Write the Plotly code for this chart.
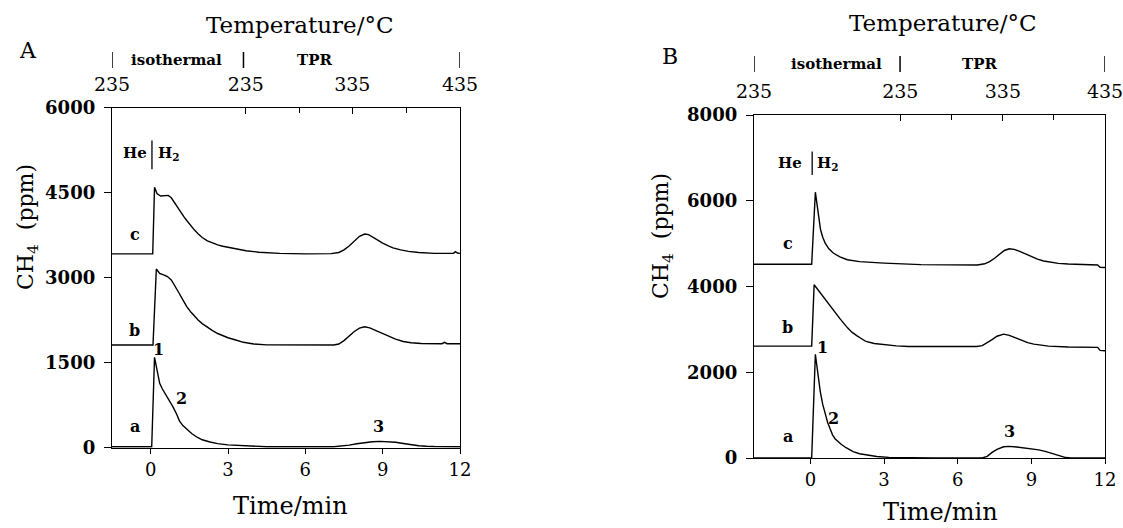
import plotly.graph_objects as go

# ---------------- data: panel A ----------------
tA_a = [-1.5, 0.04, 0.15, 0.22, 0.3, 0.35, 0.45, 0.6, 0.75, 0.86, 1.0, 1.12, 1.25, 1.4, 1.6, 1.8, 2.0, 2.3, 2.6, 3.0, 3.5, 4.0, 4.5,
        7.1, 7.4, 7.7, 8.0, 8.3, 8.6, 8.9, 9.2, 9.5, 9.8, 10.1, 10.4, 10.7, 11.0, 12]
yA_a = [18, 18, 1595, 1429, 1240, 1136, 1040, 930, 820, 724, 600, 470, 390, 320, 245, 185, 140, 100, 72, 50, 35, 25, 18,
        18, 28, 45, 70, 92, 105, 112, 108, 95, 75, 52, 35, 25, 20, 18]

tA_b = [-1.5, 0.09, 0.22, 0.35, 0.5, 0.65, 0.8, 0.9, 1.0, 1.1, 1.2, 1.3, 1.4, 1.55, 1.7, 1.85, 2.0, 2.2, 2.4, 2.6, 2.8, 3.0, 3.3, 3.6, 4.0, 4.5,
        7.1, 7.3, 7.5, 7.7, 7.9, 8.1, 8.3, 8.5, 8.7, 8.9, 9.1, 9.3, 9.5, 9.8, 10.1, 10.5, 11.3, 11.4, 11.5, 12]
yA_b = [1812, 1812, 3153, 3077, 3050, 3020, 2960, 2890, 2812, 2730, 2650, 2570, 2490, 2400, 2320, 2250, 2190, 2120, 2065, 2015, 1975, 1940, 1900, 1860, 1830, 1815,
        1812, 1830, 1890, 1970, 2050, 2110, 2135, 2115, 2075, 2035, 1995, 1955, 1915, 1875, 1852, 1840, 1835, 1860, 1835, 1835]

tA_c = [-1.5, 0.08, 0.15, 0.25, 0.39, 0.55, 0.68, 0.8, 0.9, 1.0, 1.1, 1.2, 1.3, 1.4, 1.55, 1.7, 1.85, 2.0, 2.2, 2.4, 2.6, 2.8, 3.0, 3.3, 3.7, 4.2, 5.0, 6.0,
        7.0, 7.3, 7.5, 7.7, 7.9, 8.1, 8.3, 8.45, 8.6, 8.8, 9.0, 9.2, 9.4, 9.7, 10.0, 10.4, 11.0, 11.75, 11.82, 11.9, 12]
yA_c = [3420, 3420, 4595, 4480, 4441, 4450, 4453, 4410, 4340, 4260, 4190, 4130, 4070, 4010, 3920, 3840, 3770, 3710, 3650, 3610, 3580, 3555, 3535, 3505, 3475, 3450, 3430, 3420,
        3425, 3445, 3490, 3560, 3650, 3730, 3771, 3760, 3720, 3660, 3610, 3565, 3525, 3490, 3465, 3445, 3430, 3430, 3460, 3435, 3430]

# ---------------- data: panel B ----------------
tB_a = [-2.3, 0.05, 0.2, 0.3, 0.4, 0.5, 0.6, 0.7, 0.8, 0.9, 1.0, 1.1, 1.25, 1.45, 1.74, 2.0, 2.3, 2.7, 3.2, 4.0, 5.0,
        7.0, 7.2, 7.4, 7.6, 7.87, 8.1, 8.4, 8.7, 9.0, 9.3, 9.6, 9.94, 10.2, 10.4, 10.6, 12]
yB_a = [0, 0, 2420, 1950, 1550, 1250, 1020, 830, 680, 540, 450, 390, 320, 240, 150, 100, 65, 35, 15, 5, 0,
        0, 40, 130, 200, 262, 270, 255, 235, 215, 190, 150, 100, 45, 10, 0, 0]

tB_b = [-2.3, 0.05, 0.15, 0.4, 0.7, 0.93, 1.2, 1.52, 1.7, 1.9, 2.26, 2.6, 3.0, 3.5, 4.0,
        6.77, 7.0, 7.2, 7.4, 7.6, 7.87, 8.1, 8.35, 8.6, 8.85, 9.1, 9.35, 9.7, 10.5, 11.7, 11.8, 12]
yB_b = [2610, 2610, 4040, 3850, 3620, 3450, 3250, 3030, 2930, 2850, 2718, 2670, 2641, 2615, 2600,
        2600, 2620, 2680, 2760, 2840, 2888, 2860, 2800, 2740, 2690, 2655, 2630, 2610, 2590, 2580, 2510, 2500]

tB_c = [-2.3, 0.05, 0.2, 0.25, 0.3, 0.35, 0.41, 0.5, 0.6, 0.75, 0.93, 1.2, 1.5, 2.0, 2.5, 3.0, 4.5,
        6.8, 7.1, 7.3, 7.5, 7.7, 7.9, 8.1, 8.3, 8.5, 8.75, 9.0, 9.25, 9.5, 9.8, 10.1, 10.5, 11.0, 11.7, 11.8, 12]
yB_c = [4520, 4520, 6200, 6000, 5750, 5520, 5330, 5150, 5010, 4880, 4780, 4690, 4625, 4580, 4560, 4545, 4510,
        4500, 4530, 4580, 4660, 4760, 4840, 4880, 4865, 4825, 4760, 4700, 4640, 4595, 4560, 4540, 4525, 4515, 4500, 4450, 4444]

# ---------------- ticks ----------------
time_ticks = [0, 3, 6, 9, 12]
yA_ticks = [0, 1500, 3000, 4500, 6000]
yB_ticks = [0, 2000, 4000, 6000, 8000]
tempA_ticks = [-1.5, 3.69, 7.82, 12]
tempA_minor = [5.76, 9.91]
tempB_ticks = [-2.3, 3.66, 7.84, 12]
tempB_minor = [5.75, 9.92]
temp_labels = ["235", "235", "335", "435"]

# ---------------- curve labels ----------------
labA_text = ["a", "b", "c", "1", "2", "3"]
labA_t = [-0.62, -0.62, -0.62, 0.3, 1.19, 8.85]
labA_y = [370, 2077, 3770, 1740, 860, 370]
labB_text = ["a", "b", "c", "1", "2", "3"]
labB_t = [-0.92, -0.92, -0.92, 0.5, 0.95, 8.09]
labB_y = [513, 3055, 5012, 2573, 933, 610]

W, H = 1123, 528
SERIF = "DejaVu Serif"
LW = 1.4

def px_x(p):
    return p / W

def px_y(p):
    return 1 - p / H

fig = go.Figure()
line = dict(color="black", width=LW)
for t, y in [(tA_a, yA_a), (tA_b, yA_b), (tA_c, yA_c)]:
    fig.add_trace(go.Scatter(x=t, y=y, mode="lines", line=line, xaxis="x", yaxis="y", showlegend=False, hoverinfo="skip"))
for t, y in [(tB_a, yB_a), (tB_b, yB_b), (tB_c, yB_c)]:
    fig.add_trace(go.Scatter(x=t, y=y, mode="lines", line=line, xaxis="x2", yaxis="y2", showlegend=False, hoverinfo="skip"))

axis_common = dict(showline=True, linecolor="black", linewidth=1.4, showgrid=False, zeroline=False,
                   tickcolor="black", tickwidth=1.2, fixedrange=True, automargin=False,
                   ticklabeloverflow="allow")

xfont = dict(family=SERIF, size=18, color="black")
yfont = dict(family=SERIF, size=18, color="black", weight="bold")
tfont = dict(family=SERIF, size=19, color="black")

domA_x = [px_x(112), px_x(460)]
domA_y = [px_y(447.7), px_y(107.7)]
domB_x = [px_x(754), px_x(1105)]
domB_y = [px_y(458), px_y(115)]

minor_style = dict(ticks="inside", ticklen=5, tickcolor="black", tickwidth=1.2, showgrid=False)

fig.update_layout(
    width=W, height=H, margin=dict(l=0, r=0, t=0, b=0, autoexpand=False),
    paper_bgcolor="white", plot_bgcolor="white",
    xaxis=dict(domain=domA_x, range=[-1.5, 12], anchor="y", tickmode="array", tickvals=time_ticks,
               ticks="outside", ticklen=5, tickfont=xfont, **axis_common),
    yaxis=dict(domain=domA_y, range=[0, 6000], anchor="x", tickmode="array", tickvals=yA_ticks,
               ticks="outside", ticklen=7, tickfont=yfont, mirror=True, ticklabelstandoff=5, **axis_common),
    xaxis3=dict(overlaying="x", side="top", anchor="y", range=[-1.5, 12], tickmode="array",
                tickvals=tempA_ticks, ticktext=temp_labels, ticks="inside", ticklen=6,
                minor=dict(tickmode="array", tickvals=tempA_minor, **minor_style),
                tickfont=tfont, ticklabelstandoff=8, **axis_common),
    xaxis2=dict(domain=domB_x, range=[-2.3, 12], anchor="y2", tickmode="array", tickvals=time_ticks,
                ticks="outside", ticklen=5, tickfont=xfont, **axis_common),
    yaxis2=dict(domain=domB_y, range=[0, 8000], anchor="x2", tickmode="array", tickvals=yB_ticks,
                ticks="outside", ticklen=7, tickfont=yfont, mirror=True, ticklabelstandoff=5, **axis_common),
    xaxis4=dict(overlaying="x2", side="top", anchor="y2", range=[-2.3, 12], tickmode="array",
                tickvals=tempB_ticks, ticktext=temp_labels, ticks="inside", ticklen=6,
                minor=dict(tickmode="array", tickvals=tempB_minor, **minor_style),
                tickfont=tfont, ticklabelstandoff=8, **axis_common),
)

ann = []
shapes = []

def paper_text(x, y, text, size, bold=False, angle=0):
    t = f"<b>{text}</b>" if bold else text
    ann.append(dict(x=px_x(x), y=px_y(y), xref="paper", yref="paper", text=t, showarrow=False,
                    font=dict(family=SERIF, size=size, color="black"), textangle=angle,
                    xanchor="center", yanchor="middle"))

def data_text(xref, yref, x, y, text, size, bold=True):
    t = f"<b>{text}</b>" if bold else text
    ann.append(dict(x=x, y=y, xref=xref, yref=yref, text=t, showarrow=False,
                    font=dict(family=SERIF, size=size, color="black"),
                    xanchor="center", yanchor="middle"))

# Panel titles and axis titles
paper_text(28, 50, "A", 22)
paper_text(670, 56, "B", 22)
paper_text(300, 25, "Temperature/°C", 23)
paper_text(943, 23, "Temperature/°C", 23)
paper_text(290, 506, "Time/min", 24)
paper_text(940, 512, "Time/min", 24)
paper_text(27, 227, "CH<sub>4</sub>  (ppm)", 22, angle=-90)
paper_text(662, 236, "CH<sub>4</sub>  (ppm)", 22, angle=-90)

# isothermal / TPR row (in time coordinates of the top axes)
for xr, yc, bars, iso_t, tpr_t in [("x3", 60, [-1.5, 3.6, 12], 1.0, 6.36),
                                    ("x4", 64, [-2.3, 3.65, 12], 1.07, 6.9)]:
    for b in bars:
        shapes.append(dict(type="line", xref=xr, yref="paper", x0=b, x1=b,
                           y0=px_y(yc - 8), y1=px_y(yc + 8), line=dict(color="black", width=1.5)))
    ann.append(dict(x=iso_t, y=px_y(yc), xref=xr, yref="paper", text="<b>isothermal</b>", showarrow=False,
                    font=dict(family=SERIF, size=15, color="black"), xanchor="center", yanchor="middle"))
    ann.append(dict(x=tpr_t, y=px_y(yc), xref=xr, yref="paper", text="<b>TPR</b>", showarrow=False,
                    font=dict(family=SERIF, size=15, color="black"), xanchor="center", yanchor="middle"))

# curve labels
for txt, t, y in zip(labA_text, labA_t, labA_y):
    data_text("x", "y", t, y, txt, 16)
for txt, t, y in zip(labB_text, labB_t, labB_y):
    data_text("x2", "y2", t, y, txt, 16)

# He | H2 markers
data_text("x", "y", -0.62, 5206, "He", 15)
data_text("x", "y", 0.72, 5190, "H<sub>2</sub>", 15)
shapes.append(dict(type="line", xref="x", yref="y", x0=0.05, x1=0.05, y0=4913, y1=5420,
                   line=dict(color="black", width=1.3)))
data_text("x2", "y2", -0.84, 6873, "He", 15)
data_text("x2", "y2", 0.72, 6860, "H<sub>2</sub>", 15)
shapes.append(dict(type="line", xref="x2", yref="y2", x0=0.07, x1=0.07, y0=6600, y1=7150,
                   line=dict(color="black", width=1.3)))

fig.update_layout(annotations=ann, shapes=shapes)
fig.write_html("out.html")
